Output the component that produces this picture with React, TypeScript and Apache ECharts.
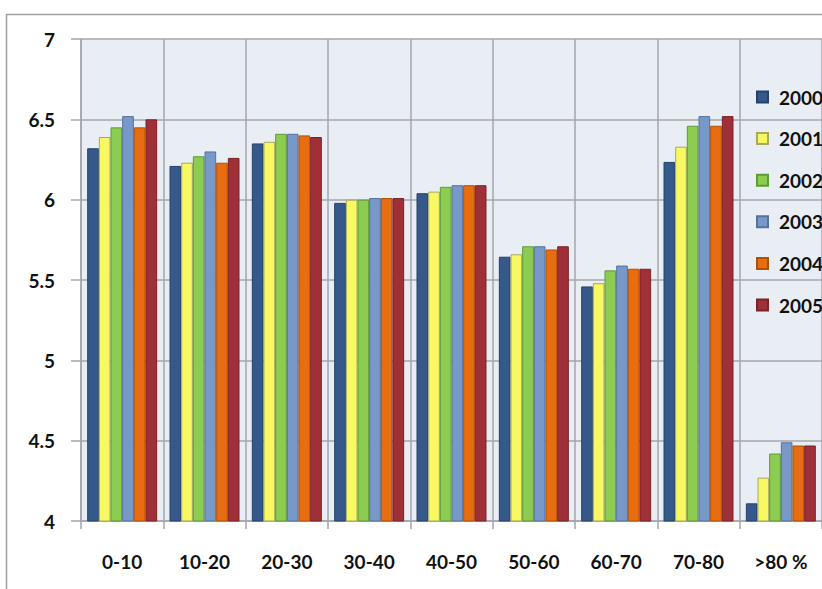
import React, { useEffect, useRef } from "react";
import * as echarts from "echarts";

const categories = ["0-10", "10-20", "20-30", "30-40", "40-50", "50-60", "60-70", "70-80", ">80 %"];
const years = ["2000", "2001", "2002", "2003", "2004", "2005"];
const v2000 = [6.32, 6.21, 6.35, 5.98, 6.04, 5.645, 5.46, 6.235, 4.11];
const v2001 = [6.39, 6.23, 6.36, 6.0, 6.05, 5.66, 5.48, 6.33, 4.27];
const v2002 = [6.45, 6.27, 6.41, 6.0, 6.08, 5.71, 5.56, 6.46, 4.42];
const v2003 = [6.52, 6.30, 6.41, 6.01, 6.09, 5.71, 5.59, 6.52, 4.49];
const v2004 = [6.45, 6.23, 6.40, 6.01, 6.09, 5.69, 5.57, 6.46, 4.47];
const v2005 = [6.50, 6.26, 6.39, 6.01, 6.09, 5.71, 5.57, 6.52, 4.47];
const seriesValues = [v2000, v2001, v2002, v2003, v2004, v2005];
const yTicks = { min: 4, max: 7, interval: 0.5 };

const colors = ["#35598a", "#f8f862", "#8ccc50", "#7898c8", "#e86c10", "#a03038"];
const borders = ["#24426a", "#a8a860", "#5e9a38", "#54729e", "#b05008", "#7a2228"];

export default function App() {
  const ref = useRef<HTMLDivElement>(null);
  useEffect(() => {
    if (!ref.current) return;
    const chart = echarts.init(ref.current, null, { renderer: "svg" });
    const font = "Lato, 'Open Sans', sans-serif";
    chart.setOption({
      animation: false,
      backgroundColor: "#ffffff",
      textStyle: { fontFamily: font },
      graphic: [
        {
          type: "rect",
          shape: { x: 6.5, y: 14.5, width: 900, height: 700 },
          style: { fill: "none", stroke: "#a0a0a0", lineWidth: 1.5 },
          z: -10,
          silent: true,
        },
      ],
      grid: {
        left: 81,
        right: -2,
        top: 39,
        bottom: 589 - 521,
        show: true,
        backgroundColor: "#e9eef5",
        borderWidth: 0,
      },
      legend: {
        orient: "vertical",
        left: 751,
        top: 82,
        itemWidth: 11,
        itemHeight: 11,
        itemGap: 21.6,
        icon: "rect",
        data: years,
        textStyle: {
          fontFamily: font,
          fontWeight: "bold",
          fontSize: 19,
          color: "#111",
          lineHeight: 20,
          padding: [0, 0, 0, 6],
        },
      },
      xAxis: {
        type: "category",
        data: categories,
        boundaryGap: true,
        axisLine: { show: true, lineStyle: { color: "#a4a6ac", width: 1.5 } },
        axisTick: { show: true, length: 8, lineStyle: { color: "#a4a6ac", width: 1.5 } },
        splitLine: { show: true, lineStyle: { color: "#a4a6ac", width: 1.5 } },
        axisLabel: {
          margin: 31,
          fontFamily: font,
          fontWeight: "bold",
          fontSize: 19,
          color: "#111",
          interval: 0,
        },
      },
      yAxis: {
        type: "value",
        min: yTicks.min,
        max: yTicks.max,
        interval: yTicks.interval,
        axisLine: { show: true, lineStyle: { color: "#a4a6ac", width: 1.5 } },
        axisTick: { show: true, length: 10, lineStyle: { color: "#a4a6ac", width: 1.5 } },
        splitLine: { show: true, lineStyle: { color: "#a4a6ac", width: 1.5 } },
        axisLabel: {
          margin: 26,
          fontFamily: font,
          fontWeight: "bold",
          fontSize: 19,
          color: "#111",
        },
      },
      series: years.map((y, i) => ({
        name: y,
        type: "bar",
        data: seriesValues[i],
        barGap: "0%",
        barCategoryGap: "15%",
        itemStyle: { color: colors[i], borderColor: borders[i], borderWidth: 1 },
      })),
    });
    return () => chart.dispose();
  }, []);
  return (
    <div
      ref={ref}
      style={{ position: "absolute", left: 0, top: 0, width: 822, height: 589 }}
    />
  );
}
